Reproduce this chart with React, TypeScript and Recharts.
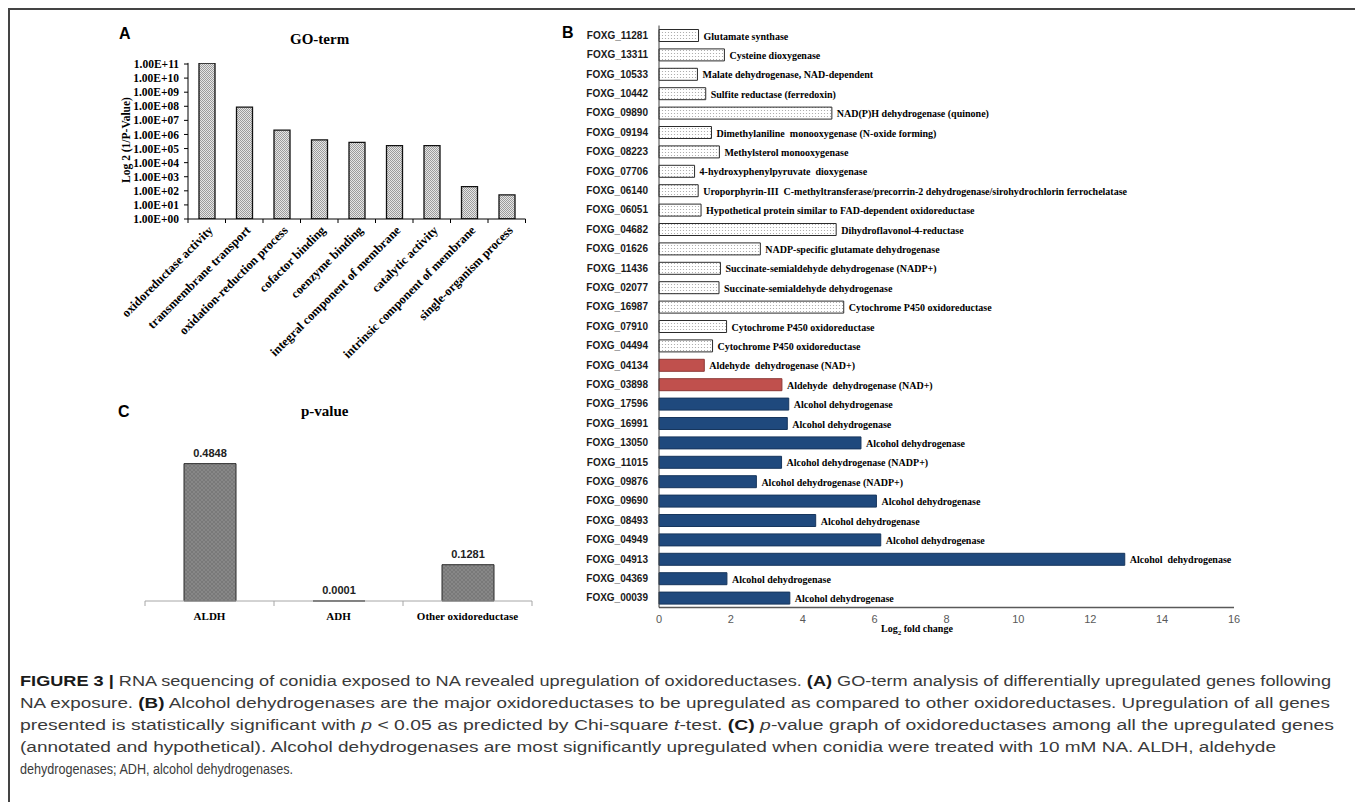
import React from "react";
import { BarChart, Bar, XAxis, YAxis, LabelList, Cell } from "recharts";

// Panel A: GO-term enrichment, log2(1/P) on a log axis
const goTerms = [
  "oxidoreductase activity",
  "transmembrane transport",
  "oxidation-reduction process",
  "cofactor binding",
  "coenzyme binding",
  "integral component of membrane",
  "catalytic activity",
  "intrinsic component of membrane",
  "single-organism process",
];
const goValues = [1.17e11, 8.7e7, 2.0e6, 4.1e5, 2.7e5, 1.6e5, 1.6e5, 200, 51];
const goTicks = [1, 1e1, 1e2, 1e3, 1e4, 1e5, 1e6, 1e7, 1e8, 1e9, 1e10, 1e11];

// Panel B: upregulated oxidoreductase genes
const geneIds = [
  "FOXG_11281", "FOXG_13311", "FOXG_10533", "FOXG_10442", "FOXG_09890",
  "FOXG_09194", "FOXG_08223", "FOXG_07706", "FOXG_06140", "FOXG_06051",
  "FOXG_04682", "FOXG_01626", "FOXG_11436", "FOXG_02077", "FOXG_16987",
  "FOXG_07910", "FOXG_04494", "FOXG_04134", "FOXG_03898", "FOXG_17596",
  "FOXG_16991", "FOXG_13050", "FOXG_11015", "FOXG_09876", "FOXG_09690",
  "FOXG_08493", "FOXG_04949", "FOXG_04913", "FOXG_04369", "FOXG_00039",
];
const geneNames = [
  "Glutamate synthase",
  "Cysteine dioxygenase",
  "Malate dehydrogenase, NAD-dependent",
  "Sulfite reductase (ferredoxin)",
  "NAD(P)H dehydrogenase (quinone)",
  "Dimethylaniline  monooxygenase (N-oxide forming)",
  "Methylsterol monooxygenase",
  "4-hydroxyphenylpyruvate  dioxygenase",
  "Uroporphyrin-III  C-methyltransferase/precorrin-2 dehydrogenase/sirohydrochlorin ferrochelatase",
  "Hypothetical protein similar to FAD-dependent oxidoreductase",
  "Dihydroflavonol-4-reductase",
  "NADP-specific glutamate dehydrogenase",
  "Succinate-semialdehyde dehydrogenase (NADP+)",
  "Succinate-semialdehyde dehydrogenase",
  "Cytochrome P450 oxidoreductase",
  "Cytochrome P450 oxidoreductase",
  "Cytochrome P450 oxidoreductase",
  "Aldehyde  dehydrogenase (NAD+)",
  "Aldehyde  dehydrogenase (NAD+)",
  "Alcohol dehydrogenase",
  "Alcohol dehydrogenase",
  "Alcohol dehydrogenase",
  "Alcohol dehydrogenase (NADP+)",
  "Alcohol dehydrogenase (NADP+)",
  "Alcohol dehydrogenase",
  "Alcohol dehydrogenase",
  "Alcohol dehydrogenase",
  "Alcohol  dehydrogenase",
  "Alcohol dehydrogenase",
  "Alcohol dehydrogenase",
];
const foldChanges = [
  1.10, 1.82, 1.07, 1.30, 4.81, 1.46, 1.68, 0.99, 1.09, 1.17,
  4.93, 2.82, 1.71, 1.67, 5.14, 1.88, 1.49, 1.26, 3.42, 3.61,
  3.57, 5.62, 3.41, 2.71, 6.05, 4.36, 6.17, 12.96, 1.89, 3.64,
];
const geneGroups = [
  "other", "other", "other", "other", "other", "other", "other", "other", "other", "other",
  "other", "other", "other", "other", "other", "other", "other", "aldh", "aldh", "adh",
  "adh", "adh", "adh", "adh", "adh", "adh", "adh", "adh", "adh", "adh",
];
const foldTicks = [0, 2, 4, 6, 8, 10, 12, 14, 16];

// Panel C: p-values per oxidoreductase class
const pCategories = ["ALDH", "ADH", "Other oxidoreductase"];
const pValues = [0.4848, 0.0001, 0.1281];

const SERIF = "'Liberation Serif', 'Times New Roman', serif";
const SANS = "'Liberation Sans', Arial, sans-serif";

const goData = goTerms.map((term, i) => ({ term, value: goValues[i] }));
const geneData = geneIds.map((id, i) => ({
  id,
  name: geneNames[i],
  fold: foldChanges[i],
  group: geneGroups[i],
}));
const pData = pCategories.map((cat, i) => ({ cat, p: pValues[i] }));

const groupFill: Record<string, string> = {
  other: "url(#dotsB)",
  aldh: "#C0504D",
  adh: "#1F497D",
};
const groupStroke: Record<string, string> = {
  other: "#2b2b2b",
  aldh: "#8C3836",
  adh: "#17365D",
};

const A_PLOT_W = 337.5;
const C_PLOT_W = 387;

const sup = (v: number) => {
  const e = Math.round(Math.log10(v));
  return "1.00E+" + String(e).padStart(2, "0");
};

// rotated category label with Excel-style ticks between categories
function GoTick({ x, y, payload, index }: any) {
  const half = A_PLOT_W / goTerms.length / 2;
  return (
    <g>
      <line x1={x - half} x2={x - half} y1={y} y2={y + 4} stroke="#000" />
      {index === goTerms.length - 1 && (
        <line x1={x + half} x2={x + half} y1={y} y2={y + 4} stroke="#000" />
      )}
      <text
        transform={`translate(${x + 7},${y + 12}) rotate(-45)`}
        textAnchor="end"
        fontFamily={SERIF}
        fontWeight="bold"
        fontSize={12.5}
        fill="#000"
      >
        {payload.value}
      </text>
    </g>
  );
}

function PTick({ x, y, payload, index }: any) {
  const half = C_PLOT_W / pCategories.length / 2;
  return (
    <g>
      <line x1={x - half} x2={x - half} y1={y} y2={y + 5} stroke="#a6a6a6" />
      {index === pCategories.length - 1 && (
        <line x1={x + half} x2={x + half} y1={y} y2={y + 5} stroke="#a6a6a6" />
      )}
      <text
        x={x}
        y={y + 19}
        textAnchor="middle"
        fontFamily={SERIF}
        fontWeight="bold"
        fontSize={11}
        fill="#000"
      >
        {payload.value}
      </text>
    </g>
  );
}

function GeneLabel({ x, y, width, height, value }: any) {
  return (
    <text
      x={x + width + 5}
      y={y + height / 2 + 4}
      fontFamily={SERIF}
      fontWeight="bold"
      fontSize={10}
      fill="#000"
      style={{ whiteSpace: "pre" }}
    >
      {value}
    </text>
  );
}

const abs = (left: number, top: number): React.CSSProperties => ({
  position: "absolute",
  left,
  top,
});

export default function App() {
  return (
    <div
      style={{
        position: "absolute",
        left: 0,
        top: 0,
        width: 1355,
        height: 802,
        background: "#fff",
        overflow: "hidden",
      }}
    >
      <div
        style={{
          ...abs(8, 8),
          width: 1347,
          height: 794,
          borderLeft: "2px solid #444",
          borderTop: "2px solid #444",
        }}
      />

      {/* panel letters and titles */}
      <div style={{ ...abs(119, 25), font: `bold 16px ${SANS}` }}>A</div>
      <div style={{ ...abs(562, 24), font: `bold 16px ${SANS}` }}>B</div>
      <div style={{ ...abs(118, 403), font: `bold 16px ${SANS}` }}>C</div>
      <div style={{ ...abs(290, 31), font: `bold 15px ${SERIF}` }}>GO-term</div>
      <div style={{ ...abs(301, 403), font: `bold 15px ${SERIF}` }}>p-value</div>
      <div
        style={{
          ...abs(126, 140),
          font: `bold 11.5px ${SERIF}`,
          transform: "translate(-50%, -50%) rotate(-90deg)",
          whiteSpace: "nowrap",
        }}
      >
        Log 2 (1/P-Value)
      </div>
      <div style={{ ...abs(881, 623), font: `bold 10px ${SERIF}`, whiteSpace: "nowrap" }}>
        Log<sub style={{ fontSize: 7 }}>2</sub> fold change
      </div>

      {/* A: GO-term */}
      <div style={abs(100, 20)}>
        <BarChart
          width={440}
          height={365}
          data={goData}
          margin={{ top: 42.9, right: 14.5, left: 0, bottom: 0 }}
          barCategoryGap={0}
        >
          <defs>
            <pattern id="hatchA" width="2" height="2" patternUnits="userSpaceOnUse">
              <rect width="2" height="2" fill="#e6e6e6" />
              <rect width="1" height="1" fill="#9c9c9c" />
              <rect x="1" y="1" width="1" height="1" fill="#9c9c9c" />
            </pattern>
          </defs>
          <XAxis
            dataKey="term"
            interval={0}
            height={166}
            tickLine={false}
            tickSize={0}
            tickMargin={0}
            axisLine={{ stroke: "#000" }}
            tick={<GoTick />}
          />
          <YAxis
            scale="log"
            domain={[1, 1.2e11]}
            allowDataOverflow
            ticks={goTicks}
            width={88}
            interval={0}
            tickFormatter={sup}
            tickSize={4}
            tickMargin={5}
            axisLine={{ stroke: "#000" }}
            tickLine={{ stroke: "#000" }}
            tick={{ fill: "#000", fontFamily: SERIF, fontWeight: "bold", fontSize: 11.5 }}
          />
          <Bar
            dataKey="value"
            barSize={16}
            fill="url(#hatchA)"
            stroke="#111"
            strokeWidth={1.3}
            isAnimationActive={false}
          />
        </BarChart>
      </div>

      {/* C: p-value */}
      <div style={abs(100, 400)}>
        <BarChart
          width={440}
          height={240}
          data={pData}
          margin={{ top: 31, right: 8, left: 45, bottom: 9 }}
        >
          <defs>
            <pattern id="hatchC" width="4" height="4" patternUnits="userSpaceOnUse">
              <rect width="4" height="4" fill="#878787" />
              <path d="M0,0 L4,4 M4,0 L0,4" stroke="#6f6f6f" strokeWidth="0.6" />
            </pattern>
          </defs>
          <XAxis
            dataKey="cat"
            interval={0}
            height={30}
            tickLine={false}
            tickSize={0}
            tickMargin={0}
            axisLine={{ stroke: "#a6a6a6" }}
            tick={<PTick />}
          />
          <YAxis hide domain={[0, 0.6]} />
          <Bar
            dataKey="p"
            barSize={52}
            fill="url(#hatchC)"
            stroke="#2a2a2a"
            strokeWidth={1}
            isAnimationActive={false}
          >
            <LabelList
              dataKey="p"
              position="top"
              offset={7}
              formatter={(v: any) => Number(v).toFixed(4)}
              fill="#222"
              fontFamily={SANS}
              fontWeight="bold"
              fontSize={11}
            />
          </Bar>
        </BarChart>
      </div>

      {/* B: log2 fold change per gene */}
      <div style={abs(550, 16)}>
        <BarChart
          layout="vertical"
          width={720}
          height={630}
          data={geneData}
          margin={{ top: 9.5, right: 36, left: 0, bottom: 8.5 }}
          barCategoryGap={0}
        >
          <defs>
            <pattern id="dotsB" width="3" height="3" patternUnits="userSpaceOnUse">
              <rect width="3" height="3" fill="#fff" />
              <circle cx="1.5" cy="1.5" r="0.6" fill="#a0a0a0" />
            </pattern>
          </defs>
          <XAxis
            type="number"
            domain={[0, 16]}
            ticks={foldTicks}
            interval={0}
            height={30}
            tickLine={false}
            tickSize={0}
            tickMargin={8}
            axisLine={{ stroke: "#595959", strokeWidth: 1.5 }}
            tick={{ fill: "#595959", fontFamily: SANS, fontSize: 11 }}
          />
          <YAxis
            type="category"
            dataKey="id"
            interval={0}
            width={109}
            tickLine={false}
            tickSize={0}
            tickMargin={11}
            axisLine={{ stroke: "#404040" }}
            tick={{ fill: "#1a1a1a", fontFamily: SANS, fontWeight: "bold", fontSize: 10 }}
          />
          <Bar dataKey="fold" barSize={12} strokeWidth={1} isAnimationActive={false}>
            {geneData.map((d) => (
              <Cell key={d.id} fill={groupFill[d.group]} stroke={groupStroke[d.group]} />
            ))}
            <LabelList dataKey="name" content={<GeneLabel />} />
          </Bar>
        </BarChart>
      </div>

      {/* figure caption */}
      <svg style={abs(0, 660)} width={1355} height={130}>
        <g fontFamily={SANS} fontSize={14} fill="#3a3a3a">
          <text x={20} y={26} textLength={1311} lengthAdjust="spacingAndGlyphs">
            <tspan fontWeight="bold" fill="#1a1a1a">FIGURE 3 |</tspan> RNA sequencing of conidia exposed to NA
            revealed upregulation of oxidoreductases. <tspan fontWeight="bold" fill="#1a1a1a">(A)</tspan> GO-term
            analysis of differentially upregulated genes following
          </text>
          <text x={20} y={48} textLength={1310} lengthAdjust="spacingAndGlyphs">
            NA exposure. <tspan fontWeight="bold" fill="#1a1a1a">(B)</tspan> Alcohol dehydrogenases are the major
            oxidoreductases to be upregulated as compared to other oxidoreductases. Upregulation of all genes
          </text>
          <text x={20} y={70} textLength={1314} lengthAdjust="spacingAndGlyphs">
            presented is statistically significant with <tspan fontStyle="italic">p</tspan> {"<"} 0.05 as
            predicted by Chi-square <tspan fontStyle="italic">t</tspan>-test.{" "}
            <tspan fontWeight="bold" fill="#1a1a1a">(C)</tspan> <tspan fontStyle="italic">p</tspan>-value graph of
            oxidoreductases among all the upregulated genes
          </text>
          <text x={20} y={92} textLength={1256} lengthAdjust="spacingAndGlyphs">
            (annotated and hypothetical). Alcohol dehydrogenases are most significantly upregulated when
            conidia were treated with 10 mM NA. ALDH, aldehyde
          </text>
          <text x={20} y={114} textLength={273} lengthAdjust="spacingAndGlyphs">
            dehydrogenases; ADH, alcohol dehydrogenases.
          </text>
        </g>
      </svg>
    </div>
  );
}
